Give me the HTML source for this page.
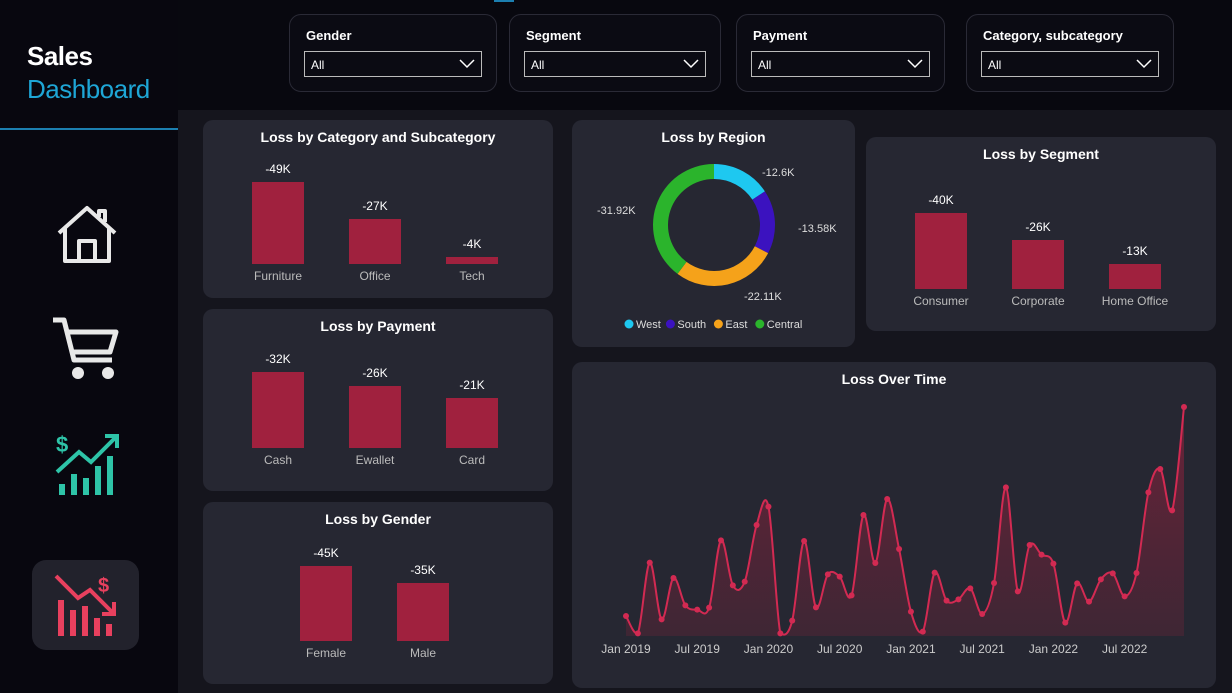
<!DOCTYPE html>
<html><head><meta charset="utf-8"><style>
body{margin:0;width:1232px;height:693px;background:#08080f;font-family:"Liberation Sans",sans-serif;overflow:hidden;position:relative;color:#fff}
.abs{position:absolute}
.card{position:absolute;background:#262732;border-radius:10px}
.title{position:absolute;left:0;right:0;text-align:center;font-weight:bold;font-size:14px;color:#fff}
.filter{position:absolute;top:14px;height:76px;border:1px solid #2a2a36;border-radius:12px;background:#0b0b13}
.filter .lb{position:absolute;left:16px;top:13px;font-weight:bold;font-size:13px}
.filter .dd{position:absolute;left:14px;right:14px;top:36px;height:26px;border:1px solid #bbb;box-sizing:border-box;font-size:12px;padding:7px 6px;line-height:12px}
.filter .dd svg{position:absolute;right:6px;top:7px}
.lbl{position:absolute;font-size:12px;color:#fff;text-align:center;width:80px}
.cat{position:absolute;font-size:12px;color:#bbb;text-align:center;width:90px}
svg text{font-family:"Liberation Sans",sans-serif}
</style></head><body>
<div class="abs" style="left:178px;top:110px;width:1054px;height:583px;background:#15151d"></div>
<div class="abs" style="left:0;top:0;width:178px;height:693px;background:#08070f"></div>
<div class="abs" style="left:27px;top:41px;font-size:26px;font-weight:bold;letter-spacing:-0.5px">Sales</div>
<div class="abs" style="left:27px;top:74px;font-size:26px;color:#1ea6d6;letter-spacing:-0.5px">Dashboard</div>
<div class="abs" style="left:0;top:128px;width:178px;height:2px;background:#1c7fb0"></div>
<div class="abs" style="left:494px;top:0;width:20px;height:2px;background:#1c7fb0"></div>

<svg class="abs" style="left:55px;top:203px" width="64" height="62"><path d="M4 30 L32 5 L60 30 M10 25 V58 H54 V25 M24 58 V38 H40 V58 M44 14 V8 H50 V19" fill="none" stroke="#e8e8e8" stroke-width="4" stroke-linejoin="round"/></svg>
<svg class="abs" style="left:50px;top:314px" width="72" height="68"><path d="M3 6 H14 L24 46 H62 M18 18 H66 L60 38 H22" fill="none" stroke="#e8e8e8" stroke-width="5" stroke-linejoin="round"/><circle cx="28" cy="59" r="6" fill="#e8e8e8"/><circle cx="58" cy="59" r="6" fill="#e8e8e8"/></svg>
<svg class="abs" style="left:53px;top:428px" width="70" height="70"><text x="3" y="24" fill="#2ec4a8" font-size="22" font-weight="bold">$</text><path d="M4 44 L26 24 L38 34 L64 8 M52 8 H64 V20" fill="none" stroke="#2ec4a8" stroke-width="4"/><g fill="#2ec4a8"><rect x="6" y="56" width="6" height="11"/><rect x="18" y="46" width="6" height="21"/><rect x="30" y="50" width="6" height="17"/><rect x="42" y="38" width="6" height="29"/><rect x="54" y="28" width="6" height="39"/></g></svg>
<div class="abs" style="left:32px;top:560px;width:107px;height:90px;border-radius:14px;background:#22222c"></div>
<svg class="abs" style="left:52px;top:570px" width="70" height="70"><text x="46" y="22" fill="#e8405e" font-size="20" font-weight="bold">$</text><path d="M4 6 L26 28 L38 20 L62 44 M50 44 H62 V32" fill="none" stroke="#e8405e" stroke-width="4"/><g fill="#e8405e"><rect x="6" y="30" width="6" height="36"/><rect x="18" y="40" width="6" height="26"/><rect x="30" y="36" width="6" height="30"/><rect x="42" y="48" width="6" height="18"/><rect x="54" y="54" width="6" height="12"/></g></svg>

<div class="filter" style="left:289px;width:206px"><div class="lb">Gender</div><div class="dd">All<svg width="16" height="10"><path d="M1 1 L8 8 L15 1" fill="none" stroke="#fff" stroke-width="1.5"/></svg></div></div>
<div class="filter" style="left:509px;width:210px"><div class="lb">Segment</div><div class="dd">All<svg width="16" height="10"><path d="M1 1 L8 8 L15 1" fill="none" stroke="#fff" stroke-width="1.5"/></svg></div></div>
<div class="filter" style="left:736px;width:207px"><div class="lb">Payment</div><div class="dd">All<svg width="16" height="10"><path d="M1 1 L8 8 L15 1" fill="none" stroke="#fff" stroke-width="1.5"/></svg></div></div>
<div class="filter" style="left:966px;width:206px"><div class="lb">Category, subcategory</div><div class="dd">All<svg width="16" height="10"><path d="M1 1 L8 8 L15 1" fill="none" stroke="#fff" stroke-width="1.5"/></svg></div></div>

<div class="card" style="left:203px;top:120px;width:350px;height:178px"><div class="title" style="top:9px">Loss by Category and Subcategory</div></div>
<div class="card" style="left:203px;top:309px;width:350px;height:182px"><div class="title" style="top:9px">Loss by Payment</div></div>
<div class="card" style="left:203px;top:502px;width:350px;height:182px"><div class="title" style="top:9px">Loss by Gender</div></div>
<div class="card" style="left:572px;top:120px;width:283px;height:227px"><div class="title" style="top:9px">Loss by Region</div></div>
<div class="card" style="left:866px;top:137px;width:350px;height:194px"><div class="title" style="top:9px">Loss by Segment</div></div>
<div class="card" style="left:572px;top:362px;width:644px;height:326px"><div class="title" style="top:9px">Loss Over Time</div></div>

<svg class="abs" id="donut" style="left:572px;top:120px" width="283" height="227"></svg>
<svg class="abs" id="line" style="left:572px;top:362px" width="644" height="326"></svg>
<div id="bars"></div>

<script>
const catNames=["Furniture","Office","Tech"];const catVals=[49,27,4];
const payNames=["Cash","Ewallet","Card"];const payVals=[32,26,21];
const genNames=["Female","Male"];const genVals=[45,35];
const segNames=["Consumer","Corporate","Home Office"];const segVals=[40,26,13];
const regionNames=["West","South","East","Central"];const regionVals=[12.6,13.58,22.11,31.92];
const regionLabels=["-12.6K","-13.58K","-22.11K","-31.92K"];
const timeVals=[6,0.8,22,5,17.4,9.2,7.9,8.5,28.7,15.2,16.3,33.3,38.8,0.8,4.6,28.5,8.6,18.5,17.8,12.2,36.3,21.9,41.1,26.1,7.3,1.3,19,10.6,11,14.3,6.6,15.9,44.6,13.4,27.3,24.4,21.7,4,15.8,10.3,17,18.8,11.9,18.9,43.1,50.1,37.7,68.7];
const timeTicks=["Jan 2019","Jul 2019","Jan 2020","Jul 2020","Jan 2021","Jul 2021","Jan 2022","Jul 2022"];
const NS="http://www.w3.org/2000/svg";
const host=document.getElementById('bars');
function barChart(names,vals,x0,bottom,maxH,nm){
  const mx=Math.max(...vals);
  names.forEach((n,i)=>{
    const h=vals[i]/mx*maxH, x=x0+i*97;
    const b=document.createElement('div');b.className='abs';
    
    
    b.style.cssText=`left:${x}px;top:${bottom-h}px;width:52px;height:${h}px;background:#a0213e`;host.appendChild(b);
    const l=document.createElement('div');l.className='lbl';
    
    
    l.style.left=(x-14)+'px';l.style.top=(bottom-h-20)+'px';l.textContent='-'+vals[i]+'K';host.appendChild(l);
    const c=document.createElement('div');c.className='cat';
    
    
    c.style.left=(x-19)+'px';c.style.top=(bottom+5)+'px';c.textContent=n;host.appendChild(c);
  });
}
barChart(catNames,catVals,252,264,82,'category');
barChart(payNames,payVals,252,448,76,'payment');
barChart(genNames,genVals,300,641,75,'gender');
barChart(segNames,segVals,915,289,76,'segment');

// donut
const d=document.getElementById('donut');const cx=142,cy=105,R=61,r=46,cols=["#1ec8f0","#3b12bf","#f5a21a","#2bb42c"];
const tot=regionVals.reduce((a,b)=>a+b,0);let a0=-Math.PI/2;
const lblPos=[[190,56],[226,112],[172,180],[25,94]];
regionVals.forEach((v,i)=>{
  const a1=a0+v/tot*2*Math.PI,lg=(a1-a0)>Math.PI?1:0;
  const p=(a,rr)=>[cx+rr*Math.cos(a),cy+rr*Math.sin(a)];
  const [x1,y1]=p(a0,R),[x2,y2]=p(a1,R),[x3,y3]=p(a1,r),[x4,y4]=p(a0,r);
  const e=document.createElementNS(NS,'path');
  e.setAttribute('d',`M${x1} ${y1}A${R} ${R} 0 ${lg} 1 ${x2} ${y2}L${x3} ${y3}A${r} ${r} 0 ${lg} 0 ${x4} ${y4}Z`);
  e.setAttribute('fill',cols[i]);
  
  
  d.appendChild(e);
  const t=document.createElementNS(NS,'text');t.setAttribute('x',lblPos[i][0]);t.setAttribute('y',lblPos[i][1]);
  t.setAttribute('fill','#ddd');t.setAttribute('font-size','11');t.textContent=regionLabels[i];
  
  
  d.appendChild(t);
  a0=a1;
});
let lx=53;
regionNames.forEach((n,i)=>{
  const c=document.createElementNS(NS,'circle');c.setAttribute('cx',lx+4);c.setAttribute('cy',204);c.setAttribute('r',4.5);c.setAttribute('fill',cols[i]);
  
  
  d.appendChild(c);
  const t=document.createElementNS(NS,'text');t.setAttribute('x',lx+11);t.setAttribute('y',208);t.setAttribute('fill','#ddd');t.setAttribute('font-size','11');t.textContent=n;
  
  
  d.appendChild(t);
  lx+=11+n.length*6.6+4;
});

// line
const L=document.getElementById('line');
const X0=54,X1=612,B=274,T=45,ymax=Math.max(...timeVals);
const xs=i=>X0+i*(X1-X0)/(timeVals.length-1), ys=v=>B-v/ymax*(B-T);
const defs=document.createElementNS(NS,'defs');defs.innerHTML='<linearGradient id="g" x1="0" y1="0" x2="0" y2="1"><stop offset="0" stop-color="#a0213e" stop-opacity="0.55"/><stop offset="1" stop-color="#a0213e" stop-opacity="0.2"/></linearGradient>';L.appendChild(defs);
let pts=timeVals.map((v,i)=>[xs(i),ys(v)]);
function smooth(p){let s=`M${p[0][0]} ${p[0][1]}`;for(let i=0;i<p.length-1;i++){const p0=p[i-1]||p[i],p1=p[i],p2=p[i+1],p3=p[i+2]||p2;
 const c1=[p1[0]+(p2[0]-p0[0])/6,Math.min(B,p1[1]+(p2[1]-p0[1])/6)],c2=[p2[0]-(p3[0]-p1[0])/6,Math.min(B,p2[1]-(p3[1]-p1[1])/6)];
 s+=`C${c1[0]} ${c1[1]} ${c2[0]} ${c2[1]} ${p2[0]} ${p2[1]}`;}return s;}
const sp=smooth(pts);
const area=document.createElementNS(NS,'path');area.setAttribute('d',sp+`L${X1} ${B}L${X0} ${B}Z`);area.setAttribute('fill','url(#g)');


L.appendChild(area);
const ln=document.createElementNS(NS,'path');ln.setAttribute('d',sp);ln.setAttribute('fill','none');ln.setAttribute('stroke','#d22a52');ln.setAttribute('stroke-width','2');


L.appendChild(ln);
pts.forEach(p=>{const c=document.createElementNS(NS,'circle');c.setAttribute('cx',p[0]);c.setAttribute('cy',p[1]);c.setAttribute('r',3);c.setAttribute('fill','#d22a52');
 
 
 L.appendChild(c);});
timeTicks.forEach((t,i)=>{const e=document.createElementNS(NS,'text');e.setAttribute('x',xs(i*6));e.setAttribute('y',291);e.setAttribute('text-anchor','middle');e.setAttribute('fill','#ccc');e.setAttribute('font-size','12');e.textContent=t;
 
 
 L.appendChild(e);});
</script>
</body></html>
